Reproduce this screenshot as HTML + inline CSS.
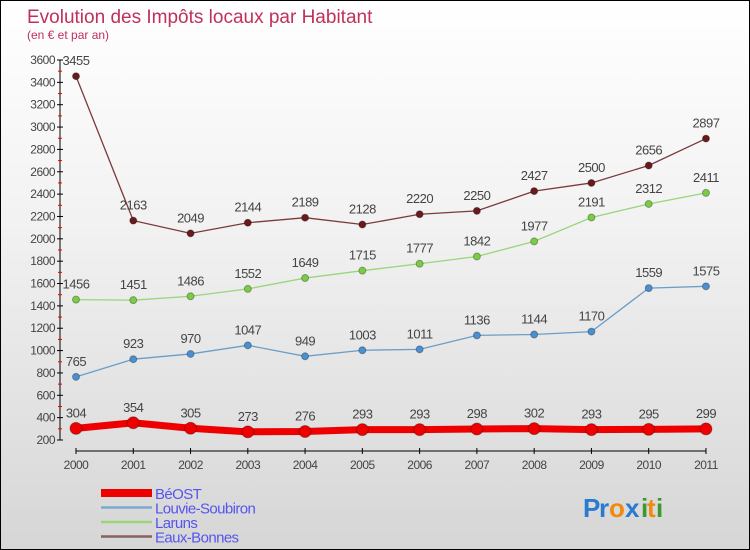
<!DOCTYPE html>
<html><head><meta charset="utf-8"><style>
body{margin:0}
#c{width:748px;height:548px;border:1px solid #000;background:linear-gradient(#fff,#f2f2f2 40%,#d6d6d6);position:relative;font-family:"Liberation Sans",sans-serif;overflow:hidden}
</style></head><body>
<div id="c">
<svg id="s" width="748" height="548"></svg>
</div>
<script>
const years=["2000","2001","2002","2003","2004","2005","2006","2007","2008","2009","2010","2011"];
const beost=[304,354,305,273,276,293,293,298,302,293,295,299];
const louvie=[765,923,970,1047,949,1003,1011,1136,1144,1170,1559,1575];
const laruns=[1456,1451,1486,1552,1649,1715,1777,1842,1977,2191,2312,2411];
const eaux=[3455,2163,2049,2144,2189,2128,2220,2250,2427,2500,2656,2897];
const yTicks=[200,400,600,800,1000,1200,1400,1600,1800,2000,2200,2400,2600,2800,3000,3200,3400,3600];
const NS="http://www.w3.org/2000/svg";const s=document.getElementById('s');
const X=i=>75+i*57.27, Y=v=>439-(v-200)*380/3400;
function el(t,a,p){const e=document.createElementNS(NS,t);for(const k in a)e.setAttribute(k,a[k]);(p||s).appendChild(e);return e;}
function tx(x,y,str,a){const e=el('text',Object.assign({x:x,y:y,'font-size':12,fill:'#444'},a));e.textContent=str;return e;}
let t=tx(26,22,"Evolution des Impôts locaux par Habitant",{'font-size':19,fill:'#c0305a'});

t=tx(26,38,"(en € et par an)",{'font-size':12,fill:'#c0305a'});

let ax=el('line',{x1:59,y1:Y(3600),x2:59,y2:Y(200),stroke:'#000'});

yTicks.forEach(v=>{el('line',{x1:56,x2:62,y1:Y(v),y2:Y(v),stroke:'#000'});
 if(v<3600) el('line',{x1:57,x2:61,y1:Y(v+100),y2:Y(v+100),stroke:'#e00'});
 const l=tx(54,Y(v)+4,String(v),{'text-anchor':'end','letter-spacing':'-0.5'});
 });
let xa=el('line',{x1:X(0),x2:X(11),y1:450,y2:450,stroke:'#000'});

years.forEach((y,i)=>{el('line',{x1:X(i),x2:X(i),y1:447,y2:453,stroke:'#000'});
 const l=tx(X(i),468,y,{'text-anchor':'middle','letter-spacing':'-0.5'});
 });
function series(d,col,dot,w,r,name){
 const g=el('g',{});
 el('polyline',{points:d.map((v,i)=>X(i)+','+Y(v)).join(' '),fill:'none',stroke:col,'stroke-width':w},g);
 d.forEach((v,i)=>{const c=el('circle',{cx:X(i),cy:Y(v),r:r,fill:dot,stroke:'rgba(0,0,0,0.3)'},g);
  
  const l=tx(X(i),Y(v)-11,String(v),{'text-anchor':'middle','font-size':13,'letter-spacing':'-0.5'},g);
  });
}
series(eaux,'#7a3a3a','#6a1a1a',1.3,3.5,'eaux-bonnes');
series(laruns,'#99d67a','#7acc44',1.3,3.5,'laruns');
series(louvie,'#6a9ec8','#4a90d0',1.3,3.5,'louvie-soubiron');
series(beost,'#ee0000','#ee0000',7,6,'beost');
const names=["BéOST","Louvie-Soubiron","Laruns","Eaux-Bonnes"],cols=['#ee0000','#7aaad0','#99d67a','#8a6060'],ws=[8,2.5,2.5,2.5];
names.forEach((n,i)=>{const g=el('g',{});
 const y=492+i*14.5;el('line',{x1:100,x2:151,y1:y,y2:y,stroke:cols[i],'stroke-width':ws[i]},g);
 tx(154,y+6,n,{'font-size':15,fill:'#5555ee','letter-spacing':'-0.6'},g);});
const lg=el('g',{});
[["P",'#2a7ad0'],["r",'#2a7ad0'],["o",'#f08a10'],["x",'#2a7ad0'],["i",'#3a9a30'],["t",'#f08a10'],["i",'#3a9a30']].forEach((c,i)=>{
 tx(582+[0,16,26,42,58,64,73][i],516,c[0],{'font-size':26,'font-weight':'bold',fill:c[1]},lg);});
</script>
</body></html>
